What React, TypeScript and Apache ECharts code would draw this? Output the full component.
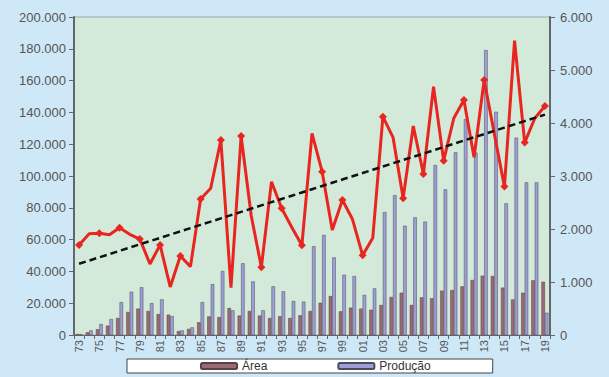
import React, { useEffect, useRef } from "react";
import * as echarts from "echarts";

const years = [
  "73","74","75","76","77","78","79","80","81","82","83","84","85","86","87","88","89","90","91","92","93","94","95","96","97","98","99","00","01","02","03","04","05","06","07","08","09","10","11","12","13","14","15","16","17","18","19",
];

// Área (ha) - left axis
const area = [
  600,1700,3600,5900,10700,14500,16600,15100,13200,12800,2500,3800,8000,11700,11300,17000,12200,15100,12200,10700,11900,10700,12400,15100,20300,24500,14900,17200,16600,15900,18900,23900,26600,18900,23700,23100,27900,28300,30600,34600,37300,37100,29800,22400,26600,34400,33500,
];

// Produção (t) - left axis
const producao = [
  500,2900,6900,10000,20700,27200,30000,20100,22400,11900,2900,4800,20700,32000,40200,15500,45100,33700,15500,30600,27500,21400,21000,55800,62900,48800,37900,37100,25200,29300,77300,88000,68700,74000,71300,106900,91600,114900,135800,114700,179200,140400,82800,124100,96000,96000,14000,
];

// Produtividade (kg/ha) - right axis
const produtividade = [
  1700,1910,1920,1890,2025,1900,1810,1340,1700,906,1490,1290,2566,2770,3680,893,3755,2250,1277,2893,2390,2032,1692,3805,3082,1981,2547,2183,1504,1830,4120,3730,2580,3944,3038,4686,3290,4090,4435,3353,4812,3800,2800,5555,3630,4090,4320,
];

const leftTicks = { min: 0, max: 200000, interval: 20000 };
const rightTicks = { min: 0, max: 6000, interval: 1000 };

function fmt(v: number) {
  return String(v).replace(/\B(?=(\d{3})+(?!\d))/g, ".");
}

function trend(values: number[]) {
  const n = values.length;
  const mx = (n - 1) / 2;
  const my = values.reduce((a, b) => a + b, 0) / n;
  let sxy = 0, sxx = 0;
  values.forEach((y, i) => { sxy += (i - mx) * (y - my); sxx += (i - mx) * (i - mx); });
  const b = sxy / sxx;
  const a = my - b * mx;
  return values.map((_, i) => a + b * i);
}

export default function App() {
  const ref = useRef<HTMLDivElement>(null);
  useEffect(() => {
    document.body.style.margin = "0";
    const chart = echarts.init(ref.current!, null, { renderer: "svg" });
    const font = "Liberation Sans";
    chart.setOption({
      animation: false,
      backgroundColor: "#cfe8f7",
      textStyle: { fontFamily: font },
      grid: {
        left: 74, right: 59, top: 17, bottom: 42,
        show: true, backgroundColor: "#d3eada", borderColor: "#98a8a8", borderWidth: 1,
      },
      legend: {
        left: 127, top: 359,
        padding: [1, 62, 1, 73],
        itemGap: 70,
        itemWidth: 36, itemHeight: 6,
        backgroundColor: "#ffffff", borderColor: "#444", borderWidth: 1,
        textStyle: { fontSize: 12, color: "#333", fontFamily: font },
        data: ["Área", "Produção"],
      },
      xAxis: {
        type: "category",
        data: years,
        axisLine: { lineStyle: { color: "#666", width: 1 } },
        axisTick: { show: true, interval: 0, lineStyle: { color: "#666" }, length: 4 },
        axisLabel: { interval: 1, rotate: 90, fontSize: 11, color: "#555", margin: 5, fontFamily: font },
      },
      yAxis: [
        {
          type: "value", ...leftTicks,
          axisLine: { show: true, lineStyle: { color: "#666", width: 2 } },
          axisTick: { show: true, length: 5, lineStyle: { color: "#666" } },
          splitLine: { show: false },
          axisLabel: { formatter: fmt, fontSize: 13, color: "#555", margin: 8, fontFamily: font },
        },
        {
          type: "value", ...rightTicks,
          axisLine: { show: true, lineStyle: { color: "#666", width: 2 } },
          axisTick: { show: true, length: 5, lineStyle: { color: "#666" } },
          splitLine: { show: false },
          axisLabel: { formatter: fmt, fontSize: 13, color: "#555", margin: 10, fontFamily: font },
        },
      ],
      series: [
        {
          name: "Área", type: "bar", yAxisIndex: 0, data: area,
          barWidth: 3.5, barGap: "0%",
          itemStyle: { color: "#9a6a72", borderColor: "#5a4048", borderWidth: 0.5 },
        },
        {
          name: "Produção", type: "bar", yAxisIndex: 0, data: producao,
          barWidth: 3.5, barGap: "0%",
          itemStyle: { color: "#9e9ed4", borderColor: "#4a4a60", borderWidth: 0.5 },
        },
        {
          name: "Produtividade", type: "line", yAxisIndex: 1, data: produtividade,
          symbol: "diamond", symbolSize: 8,
          lineStyle: { color: "#e8251f", width: 3 },
          itemStyle: { color: "#e8251f" },
          z: 5,
        },
        {
          name: "Tendência", type: "line", yAxisIndex: 1, data: trend(produtividade),
          symbol: "none",
          lineStyle: { color: "#111", width: 2.5, type: [7, 4] },
          z: 6,
        },
      ],
    });
    return () => chart.dispose();
  }, []);
  return <div ref={ref} style={{ position: "fixed", left: 0, top: 0, width: 609, height: 377 }} />;
}
